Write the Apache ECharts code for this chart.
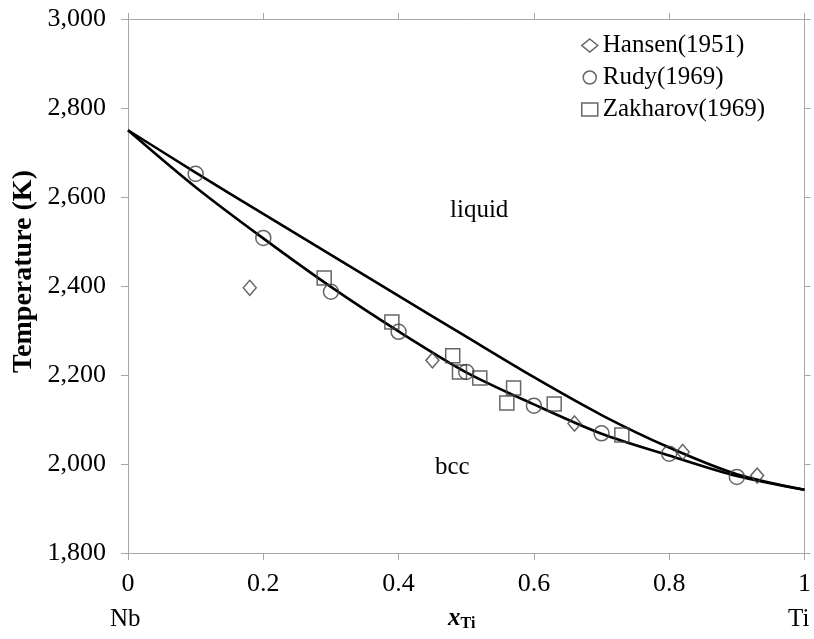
<!DOCTYPE html>
<html>
<head>
<meta charset="utf-8">
<script src="https://cdn.jsdelivr.net/npm/echarts@6/dist/echarts.min.js"></script>
<style>html,body{margin:0;padding:0;background:#fff}#c{width:814px;height:639px}</style>
</head>
<body>
<div id="c"></div>
<script>
// ---- data ----
const xCurve = [0, 0.1, 0.2, 0.3, 0.4, 0.5, 0.6, 0.7, 0.8, 0.9, 1.0];
const liquidus = [2750, 2655, 2562, 2470, 2378, 2286, 2195, 2110, 2037, 1977, 1942];
const solidus  = [2750, 2622, 2507, 2398, 2298, 2206, 2134, 2068, 2019, 1973, 1942];

const hansenX = [0.18, 0.45, 0.66, 0.82, 0.93];
const hansenT = [2396, 2233, 2091, 2027, 1974];
const rudyX = [0.1, 0.2, 0.3, 0.4, 0.5, 0.6, 0.7, 0.8, 0.9];
const rudyT = [2652, 2508, 2387, 2297, 2207, 2131, 2069, 2023, 1971];
const zakX = [0.29, 0.39, 0.48, 0.49, 0.52, 0.56, 0.57, 0.63, 0.73];
const zakT = [2418, 2319, 2243, 2207, 2193, 2137, 2171, 2135, 2065];

const xTicks = [0, 0.2, 0.4, 0.6, 0.8, 1];
const yTicks = [1800, 2000, 2200, 2400, 2600, 2800, 3000];

const FONT = '"Liberation Serif", "Times New Roman", serif';
const zip = (a, b) => a.map((v, i) => [v, b[i]]);

const chart = echarts.init(document.getElementById('c'), null, {renderer: 'canvas'});
const axisGray = '#a6a6a6';
const markStroke = '#404040';

const scatterStyle = {color: 'rgba(255,255,255,0)', borderColor: markStroke, borderWidth: 1.5};

chart.setOption({
  animation: false,
  backgroundColor: '#fff',
  grid: {left: 128, right: 8, top: 19, bottom: 86, containLabel: false},
  xAxis: [{
    type: 'value', min: 0, max: 1, interval: 0.2,
    axisLine: {show: true, onZero: false, lineStyle: {color: axisGray, width: 1}},
    axisTick: {show: true, length: 7, lineStyle: {color: axisGray}},
    splitLine: {show: false},
    axisLabel: {margin: 18, color: '#000', fontFamily: FONT, fontSize: 26,
      formatter: v => { const t = xTicks.find(k => Math.abs(k - v) < 1e-9); return t === undefined ? '' : String(t); }}
  }, {
    type: 'value', min: 0, max: 1, interval: 0.2, position: 'top',
    axisLine: {show: true, onZero: false, lineStyle: {color: axisGray, width: 1}},
    axisTick: {show: true, length: 6, lineStyle: {color: axisGray}},
    axisLabel: {show: false}, splitLine: {show: false}
  }],
  yAxis: [{
    type: 'value', min: 1800, max: 3000, interval: 200,
    axisLine: {show: true, onZero: false, lineStyle: {color: axisGray, width: 1}},
    axisTick: {show: true, length: 7, lineStyle: {color: axisGray}},
    splitLine: {show: false},
    axisLabel: {margin: 22, color: '#000', fontFamily: FONT, fontSize: 26,
      formatter: v => yTicks.includes(v) ? v.toLocaleString('en-US') : ''}
  }, {
    type: 'value', min: 1800, max: 3000, interval: 200, position: 'right',
    axisLine: {show: true, onZero: false, lineStyle: {color: axisGray, width: 1}},
    axisTick: {show: true, length: 6, lineStyle: {color: axisGray}},
    axisLabel: {show: false}, splitLine: {show: false}
  }],
  legend: {
    orient: 'vertical', left: 576, top: 28, itemGap: 7,
    itemWidth: 16, itemHeight: 13,
    textStyle: {fontFamily: FONT, fontSize: 25, color: '#000'},
    data: [
      {name: 'Hansen(1951)', icon: 'diamond', itemStyle: scatterStyle},
      {name: 'Rudy(1969)', icon: 'circle', itemStyle: scatterStyle},
      {name: 'Zakharov(1969)', icon: 'rect', itemStyle: scatterStyle}
    ]
  },
  graphic: [
    {type: 'text', left: 450, top: 198, style: {text: 'liquid', font: '25px ' + FONT, fill: '#000'}},
    {type: 'text', left: 435, top: 455, style: {text: 'bcc', font: '25px ' + FONT, fill: '#000'}},
    {type: 'text', left: 110, top: 607, style: {text: 'Nb', font: '25px ' + FONT, fill: '#000'}},
    {type: 'text', left: 788, top: 607, style: {text: 'Ti', font: '25px ' + FONT, fill: '#000'}},
    {type: 'text', left: 448, top: 606, style: {
      rich: {x: {fontFamily: FONT, fontSize: 25, fontWeight: 'bold', fontStyle: 'italic', fill: '#000'},
             s: {fontFamily: FONT, fontSize: 16, fontWeight: 'bold', fill: '#000', padding: [10, 0, 0, 0]}},
      text: '{x|x}{s|Ti}'}},
    {type: 'text', x: 10, y: 373, rotation: Math.PI / 2, style: {
      text: 'Temperature (K)', font: 'bold 28px ' + FONT, fill: '#000'}}
  ],
  series: [
    {name: 'liquidus', type: 'line', data: zip(xCurve, liquidus), smooth: 0.3, showSymbol: false,
      lineStyle: {color: '#000', width: 2.6}, z: 3},
    {name: 'solidus', type: 'line', data: zip(xCurve, solidus), smooth: 0.3, showSymbol: false,
      lineStyle: {color: '#000', width: 2.6}, z: 3},
    {name: 'Hansen(1951)', type: 'scatter', data: zip(hansenX, hansenT), symbol: 'diamond', symbolSize: [13, 15],
      itemStyle: scatterStyle, z: 4},
    {name: 'Rudy(1969)', type: 'scatter', data: zip(rudyX, rudyT), symbol: 'circle', symbolSize: 15,
      itemStyle: scatterStyle, z: 4},
    {name: 'Zakharov(1969)', type: 'scatter', data: zip(zakX, zakT), symbol: 'rect', symbolSize: 14,
      itemStyle: scatterStyle, z: 4}
  ]
});
</script>
</body>
</html>
